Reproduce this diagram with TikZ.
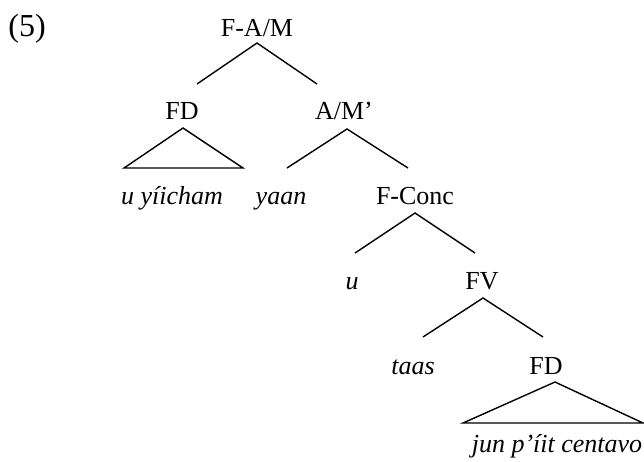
\documentclass[tikz,border=0pt]{standalone}
\usepackage{fontspec}
\setmainfont{Liberation Serif}
\usetikzlibrary{calc}
\begin{document}
\begin{tikzpicture}[x=1pt,y=-1pt,line width=1.4pt,line join=miter,
    every node/.style={inner sep=0pt,anchor=base,font=\fontsize{26}{31}\selectfont},
    leaf/.style={font=\fontsize{26}{31}\selectfont\itshape}]
  \useasboundingbox (0,0) rectangle (644,461);
  \node[font=\fontsize{32}{38}\selectfont] (ex) at (27,36) {(5)};
  \node (fam)  at (257,36)  {F-A/M};
  \node (fd)   at (182,119) {FD};
  \node (amp)  at (344,119) {A/M’};
  \node[leaf] (uyi)  at (172,204) {u yíicham};
  \node[leaf] (yaan) at (281,204) {yaan};
  \node (fcon) at (415,204) {F-Conc};
  \node[leaf] (u)    at (352,289) {u};
  \node (fv)   at (482,289) {FV};
  \node[leaf] (taas) at (413,374) {taas};
  \node (fdd)  at (546,374) {FD};
  \node[leaf] (jun)  at (557,452) {jun p’íit centavo};
  % branches
  \draw ($(fd.base)+(15,-35)$) -- ($(fam.base)+(0,7)$) -- ($(amp.base)+(-27,-35)$);
  \draw ($(yaan.base)+(6,-36)$) -- ($(amp.base)+(3,10)$) -- ($(fcon.base)+(-7,-36)$);
  \draw ($(u.base)+(3,-36)$) -- ($(fcon.base)+(0,9)$) -- ($(fv.base)+(-7,-36)$);
  \draw ($(taas.base)+(10,-37)$) -- ($(fv.base)+(1,9)$) -- ($(fdd.base)+(-3,-37)$);
  % triangles
  \draw ($(fd.base)+(1,9)$) -- ($(uyi.base)+(-48,-36)$) -- ($(uyi.base)+(71,-36)$) -- cycle;
  \draw ($(fdd.base)+(9,8)$) -- ($(jun.base)+(-94,-29)$) -- ($(jun.base)+(86,-29)$) -- cycle;
\end{tikzpicture}
\end{document}
